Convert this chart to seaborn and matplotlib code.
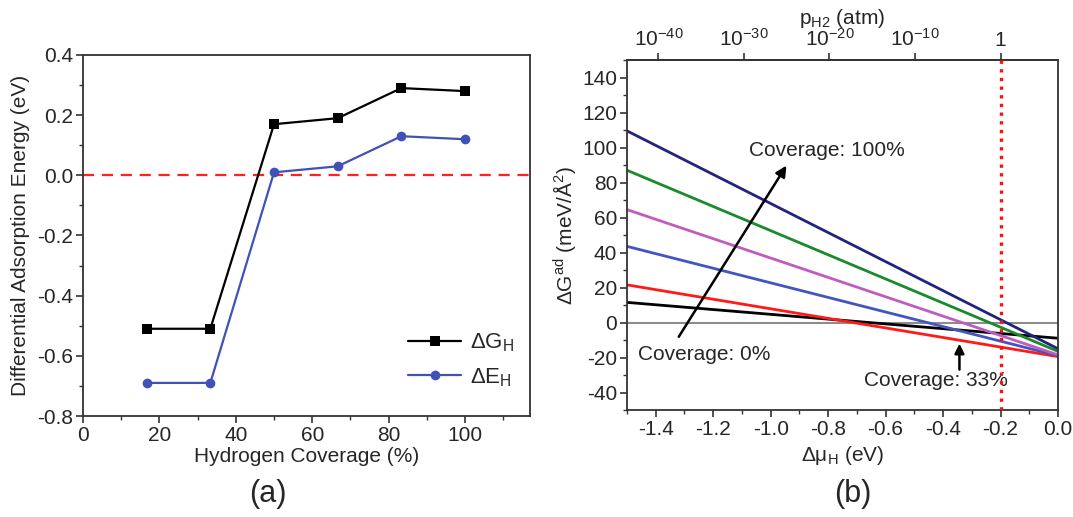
import numpy as np
import pandas as pd
import matplotlib
matplotlib.use("Agg")
import matplotlib.pyplot as plt
from matplotlib.ticker import MultipleLocator, FixedLocator
import seaborn as sns

sns.set_theme(style="white")
plt.rcParams['font.family'] = ['Liberation Sans', 'DejaVu Sans']
plt.rcParams['mathtext.fontset'] = 'custom'
plt.rcParams['mathtext.rm'] = 'Liberation Sans'
plt.rcParams['mathtext.it'] = 'Liberation Sans:italic'
plt.rcParams['mathtext.default'] = 'regular'

# ---------------- data ----------------
coverage = [16.67, 33.33, 50.0, 66.67, 83.33, 100.0]
dG_H = [-0.51, -0.51, 0.17, 0.19, 0.29, 0.28]
dE_H = [-0.69, -0.69, 0.01, 0.03, 0.13, 0.12]

mu_ends = [-1.5, 0.0]
line_names = ["c1", "c2", "c3", "c4", "c5", "c6"]
g_at_left = [11.5, 21.5, 43.5, 64.5, 87.0, 109.5]
g_at_right = [-9.0, -19.5, -19.0, -18.5, -16.5, -15.0]
line_colors = ["#000000", "#ff1a1a", "#4455c0", "#c05cc0", "#1a8a2a", "#22227f"]

p_ticks_exp = [-40, -30, -20, -10, 0]
p_tick_labels = ["10$^{-40}$", "10$^{-30}$", "10$^{-20}$", "10$^{-10}$", "1"]

FS = 15
fig = plt.figure(figsize=(10.73, 5.17), dpi=100)
W, H = 1073, 517

def px_axes(l, r, t, b):
    return fig.add_axes([l / W, 1 - b / H, (r - l) / W, (b - t) / H])

fmt1 = matplotlib.ticker.FuncFormatter(lambda v, p: f"{v:.1f}".replace("-0.0", "0.0"))

# ---------------- panel (a) ----------------
ax1 = px_axes(83, 530, 55, 416)
dfa = pd.DataFrame({"cov": coverage * 2,
                    "val": dG_H + dE_H,
                    "kind": ["ΔG$_H$"] * 6 + ["ΔE$_H$"] * 6})
ax1.axhline(0, color="#ff2020", ls=(0, (5, 3.5)), lw=1.6, zorder=1)
sns.lineplot(data=dfa, x="cov", y="val", hue="kind", style="kind",
             palette=["#000000", "#4052b5"], markers=["s", "o"], dashes=False,
             markersize=7, markeredgewidth=0, lw=1.6, ax=ax1, zorder=3)
ax1.set_xlim(0, 117)
ax1.set_ylim(-0.8, 0.4)
ax1.xaxis.set_major_locator(MultipleLocator(20))
ax1.xaxis.set_minor_locator(MultipleLocator(10))
ax1.yaxis.set_major_locator(MultipleLocator(0.2))
ax1.yaxis.set_minor_locator(MultipleLocator(0.1))
ax1.yaxis.set_major_formatter(fmt1)
ax1.tick_params(which="major", direction="out", length=5, width=1.2, labelsize=FS, pad=2,
                bottom=True, left=True, top=False, right=False, color="#333333")
ax1.tick_params(which="minor", direction="out", length=3, width=1.0,
                bottom=True, left=True, top=False, right=False, color="#333333")
ax1.set_xlabel("Hydrogen Coverage (%)", fontsize=FS, labelpad=2)
ax1.set_ylabel("Differential Adsorption Energy (eV)", fontsize=FS, labelpad=5)
for s in ax1.spines.values():
    s.set_color("#333333"); s.set_linewidth(1.3)
leg = ax1.legend(loc="lower right", bbox_to_anchor=(1.01, 0.02), frameon=False,
                 fontsize=16, handlelength=2.4, labelspacing=0.55, handletextpad=0.4)
fig.text(268 / W, 1 - 494 / H, "(a)", fontsize=22, ha="center", va="center")

# ---------------- panel (b) ----------------
ax2 = px_axes(627, 1058, 60, 410)
rows = []
for n, a, b in zip(line_names, g_at_left, g_at_right):
    rows.append({"mu": mu_ends[0], "g": a, "name": n})
    rows.append({"mu": mu_ends[1], "g": b, "name": n})
dfb = pd.DataFrame(rows)
ax2.axhline(0, color="#8c8c8c", lw=1.5, zorder=1)
sns.lineplot(data=dfb, x="mu", y="g", hue="name", palette=line_colors,
             lw=2.0, ax=ax2, legend=False, zorder=2)
ax2.axvline(-0.2, color="#ff1010", ls=(0, (1, 1.6)), lw=2.4, zorder=4)
ax2.set_xlim(-1.5, 0.0)
ax2.set_ylim(-50, 150)
ax2.xaxis.set_major_locator(MultipleLocator(0.2))
ax2.xaxis.set_minor_locator(MultipleLocator(0.1))
ax2.yaxis.set_major_locator(FixedLocator(np.arange(-40, 141, 20)))
ax2.yaxis.set_minor_locator(MultipleLocator(10))
ax2.xaxis.set_major_formatter(fmt1)
ax2.yaxis.set_major_formatter(matplotlib.ticker.FuncFormatter(lambda v, p: f"{v:.0f}"))
ax2.tick_params(which="major", direction="out", length=5, width=1.2, labelsize=FS, pad=2,
                bottom=True, left=True, top=False, right=False, color="#333333")
ax2.tick_params(which="minor", direction="out", length=3, width=1.0,
                bottom=True, left=True, top=False, right=False, color="#333333")
ax2.set_xlabel("Δμ$_H$ (eV)", fontsize=FS, labelpad=4)
ax2.set_ylabel("ΔG$^{ad}$ (meV/Å$^2$)", fontsize=FS, labelpad=3)
for s in ax2.spines.values():
    s.set_color("#333333"); s.set_linewidth(1.3)

# top axis: p_H2 in atm, Δμ = -0.2 + (kT ln10 / 2) log10 p at 300 K
dec = 0.025852 * np.log(10) / 2
top = ax2.secondary_xaxis("top", functions=(lambda m: (m + 0.2) / dec, lambda e: e * dec - 0.2))
top.xaxis.set_major_locator(FixedLocator(p_ticks_exp))
top.set_xticklabels(p_tick_labels)
top.tick_params(direction="out", length=5, width=1.2, labelsize=FS, pad=2, color="#333333")
top.set_xlabel("p$_{H2}$ (atm)", fontsize=FS, labelpad=3)
top.spines["top"].set_color("#333333")

ax2.annotate("", xy=(-0.94, 91), xytext=(-1.325, -9.5),
             arrowprops=dict(arrowstyle="-|>", color="black", lw=1.8, mutation_scale=16))
ax2.annotate("", xy=(-0.343, -10.5), xytext=(-0.343, -28.5),
             arrowprops=dict(arrowstyle="-|>", color="black", lw=1.8, mutation_scale=14))
ax2.text(-1.075, 98, "Coverage: 100%", fontsize=FS, ha="left", va="center")
ax2.text(-1.46, -18.5, "Coverage: 0%", fontsize=FS, ha="left", va="center")
ax2.text(-0.675, -33, "Coverage: 33%", fontsize=FS, ha="left", va="center")
fig.text(853 / W, 1 - 494 / H, "(b)", fontsize=22, ha="center", va="center")

fig.savefig("out.png", dpi=100)
